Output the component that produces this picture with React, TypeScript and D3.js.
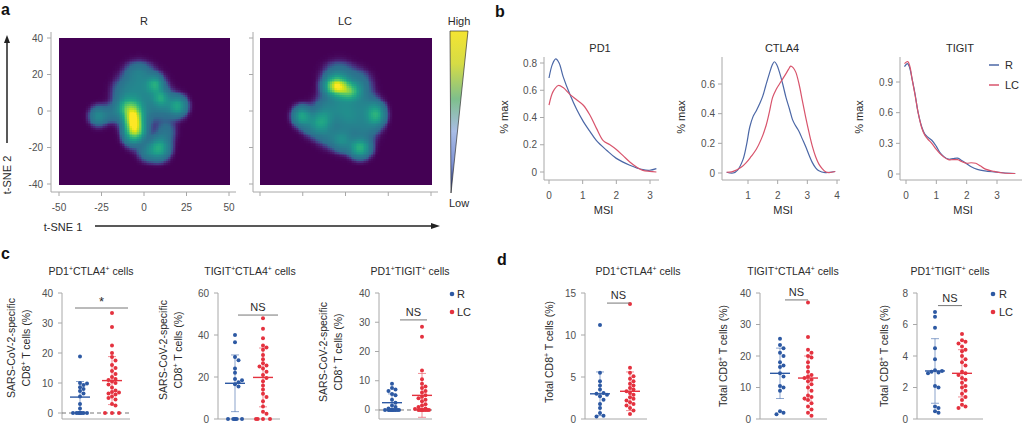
import React from "react";
import * as d3 from "d3";

type Pt = [number, number];
type Blob = [number, number, number, number, number];

const FONT = "'Liberation Sans', Arial, Helvetica, sans-serif";
const BLUE = "#2d59a3";
const RED = "#e4323f";
const LINE_BLUE = "#4b67a6";
const LINE_RED = "#d8546c";
const AXIS = "#a8a8a8";
const TEXT = "#505050";
const DARK = "#2a2a2a";

// ---------- Panel a data ----------
const tsneXTicks = [-50, -25, 0, 25, 50];
const tsneYTicks = [-40, -20, 0, 20, 40];
// density blobs: x, y, sx, sy, weight
const blobsR: Blob[] = [
  [-5, 15, 6, 6, 0.17],
  [4, 12, 6, 6, 0.2],
  [-12, 10, 5, 5, 0.15],
  [-3, 22, 5, 4, 0.15],
  [12, 3, 6, 5, 0.2],
  [20, 3, 3.5, 3.5, 0.45],
  [-4, 0, 6, 6, 0.25],
  [-27, -2.5, 3.5, 3.5, 0.3],
  [-19, -1, 4, 3.5, 0.15],
  [-11, 2, 3.5, 3.5, 0.4],
  [-6.3, -5, 3.6, 5.8, 1.2],
  [-3.5, -11, 3.5, 3.5, 0.4],
  [13, -11, 4, 4, 0.15],
  [9, -20, 4, 4, 0.55],
  [2, -22, 4, 3.5, 0.2],
  [-8, -14, 3.5, 3.5, 0.15],
  [6.5, 15, 3, 3, 0.4],
  [10, 7.5, 3, 3, 0.35],
];
const blobsLC: Blob[] = [
  [-5.2, 14, 4.3, 3.3, 1.1],
  [2.5, 11, 4, 3, 0.55],
  [-4, 20, 6, 5, 0.2],
  [8, 15, 5, 5, 0.18],
  [-2, 5, 7, 6, 0.22],
  [-12, 0, 5, 5, 0.18],
  [-25.5, -2.5, 3.5, 3.5, 0.5],
  [-14, -6, 4, 4, 0.4],
  [1.6, -4, 6, 6, 0.25],
  [18, -1.7, 3.5, 4, 0.55],
  [12, 3, 5, 5, 0.18],
  [12, -9, 5, 5, 0.18],
  [8.5, -20, 4, 3.5, 0.6],
  [-2, -16, 4, 4, 0.3],
  [-10, -14, 5, 4, 0.15],
  [-20, -8, 4, 4, 0.15],
];

// ---------- Panel b data ----------
const pd1R: Pt[] = [[0, 0.69], [0.1, 0.79], [0.2, 0.83], [0.3, 0.8], [0.42, 0.7], [0.62, 0.57], [0.82, 0.46], [1.02, 0.37], [1.21, 0.3], [1.41, 0.23], [1.71, 0.16], [2.0, 0.1], [2.4, 0.05], [2.79, 0.017], [2.99, 0.013], [3.19, 0.025]];
const pd1LC: Pt[] = [[0, 0.49], [0.12, 0.59], [0.28, 0.635], [0.42, 0.62], [0.62, 0.57], [0.82, 0.53], [1.02, 0.49], [1.21, 0.42], [1.41, 0.32], [1.61, 0.23], [1.81, 0.2], [2.0, 0.165], [2.2, 0.12], [2.4, 0.074], [2.6, 0.037], [2.79, 0.012], [2.99, 0.005], [3.19, 0.0]];
const ctla4R: Pt[] = [[0.28, 0.005], [0.5, 0.0], [0.65, 0.02], [0.83, 0.09], [0.95, 0.19], [1.06, 0.31], [1.17, 0.38], [1.28, 0.42], [1.4, 0.47], [1.5, 0.52], [1.6, 0.59], [1.72, 0.67], [1.82, 0.73], [1.89, 0.75], [1.97, 0.73], [2.06, 0.68], [2.17, 0.6], [2.28, 0.51], [2.4, 0.43], [2.5, 0.36], [2.6, 0.32], [2.72, 0.28], [2.83, 0.23], [2.94, 0.18], [3.06, 0.12], [3.17, 0.07], [3.28, 0.035], [3.39, 0.015], [3.6, 0.003], [3.94, 0.01]];
const ctla4LC: Pt[] = [[0.28, 0.005], [0.45, 0.008], [0.61, 0.02], [0.78, 0.04], [0.94, 0.07], [1.1, 0.11], [1.28, 0.16], [1.45, 0.23], [1.61, 0.32], [1.72, 0.41], [1.83, 0.51], [1.94, 0.56], [2.06, 0.6], [2.17, 0.635], [2.28, 0.67], [2.37, 0.7], [2.44, 0.72], [2.52, 0.71], [2.61, 0.68], [2.72, 0.6], [2.83, 0.49], [2.94, 0.38], [3.06, 0.27], [3.17, 0.18], [3.28, 0.11], [3.39, 0.06], [3.5, 0.03], [3.6, 0.01], [3.72, 0.003], [3.94, 0.01]];
const tigitR: Pt[] = [[-0.05, 1.05], [0.05, 1.08], [0.12, 1.04], [0.2, 0.93], [0.3, 0.78], [0.4, 0.6], [0.52, 0.46], [0.62, 0.39], [0.72, 0.36], [0.85, 0.33], [1.0, 0.27], [1.12, 0.21], [1.25, 0.17], [1.4, 0.145], [1.55, 0.15], [1.7, 0.155], [1.85, 0.13], [2.0, 0.1], [2.15, 0.07], [2.35, 0.045], [2.6, 0.03], [2.9, 0.02], [3.2, 0.012], [3.6, 0.005]];
const tigitLC: Pt[] = [[-0.05, 1.08], [0.06, 1.1], [0.13, 1.05], [0.2, 0.93], [0.3, 0.77], [0.4, 0.6], [0.52, 0.45], [0.62, 0.38], [0.72, 0.34], [0.85, 0.3], [1.0, 0.24], [1.12, 0.2], [1.25, 0.165], [1.4, 0.14], [1.55, 0.14], [1.7, 0.14], [1.85, 0.12], [2.0, 0.105], [2.15, 0.11], [2.3, 0.105], [2.45, 0.08], [2.6, 0.05], [2.9, 0.025], [3.2, 0.01], [3.6, 0.005]];

// ---------- Panel c / d data ----------
const c1R = [18.8, 10, 9.8, 9.3, 8.6, 8, 7.3, 6.5, 5.5, 3, 1.5, 0, 0, 0, 0, 0, 0, 0, 0];
const c1LC = [33.3, 28.7, 22.5, 20, 18.7, 17.5, 16, 15, 14, 13, 12, 11.3, 11, 10.5, 10, 9.5, 8.5, 7.5, 7, 6.8, 6.5, 6.2, 5.5, 5, 4.5, 3, 2.5, 0, 0, 0];
const c2R = [40, 36.5, 29.5, 28, 24, 22, 19, 18.5, 17.5, 16.5, 15.5, 0, 0, 0, 0, 0, 0];
const c2LC = [48, 43, 38.5, 35, 34, 33, 30.5, 28.5, 26.5, 25.5, 25, 24, 22.5, 21, 19.5, 18, 16, 14, 12, 10.5, 8.5, 6, 3.5, 2.5, 0, 0, 0, 0];
const c3R = [9, 7.5, 7, 6.5, 5.5, 5, 3.5, 2.5, 1.5, 1, 0.5, 0, 0, 0, 0, 0, 0, 0, 0, 0];
const c3LC = [28.5, 25, 13.5, 10.5, 9, 8, 7.5, 6.5, 6, 5, 4.5, 4, 3.5, 3, 2, 1.5, 1, 0.5, 0.3, 0, 0, 0, 0, 0, 0, 0, 0];
const d1R = [11.2, 5.5, 4.5, 4.0, 3.5, 3.1, 3.0, 2.9, 2.7, 2.3, 1.8, 1.3, 0.7, 0.4, 0.3];
const d1LC = [13.7, 6.1, 5.5, 5.1, 4.8, 4.5, 4.2, 4.0, 3.7, 3.5, 3.3, 3.1, 2.9, 2.6, 2.4, 2.2, 2.0, 1.8, 1.6, 1.3, 1.0, 0.6];
const d2R = [25.5, 23.5, 22.5, 21, 20, 18, 17, 16.5, 14.5, 13.5, 10.5, 10, 9, 2.5, 2, 1.5];
const d2LC = [37, 26, 22, 21, 20, 19.5, 18, 16.5, 15, 14, 13.5, 13, 12.5, 12, 11, 10, 9, 7.5, 7, 6.5, 6, 5, 4, 3, 2, 1];
const d3R = [6.8, 6.5, 5.8, 4.5, 3.8, 3.1, 3.05, 3.0, 2.95, 2.9, 2.1, 2.0, 0.8, 0.7, 0.5, 0.4];
const d3LC = [5.4, 5.0, 4.9, 4.8, 4.6, 4.4, 4.3, 4.0, 3.8, 3.6, 3.4, 3.0, 2.9, 2.8, 2.6, 2.5, 2.3, 2.1, 2.0, 1.8, 1.6, 1.4, 1.2, 0.9, 0.8, 0.7];
// mean and SD: [R, LC]
const means = { c1: [5.3, 10.8], c2: [17, 19.8], c3: [2.5, 5], d1: [3.0, 3.3], d2: [14.5, 13], d3: [3.05, 2.9] };
const sds = { c1: [5.2, 8], c2: [13.5, 14], c3: [3, 7.5], d1: [2.6, 2.3], d2: [8, 7], d3: [2.05, 1.5] };
const sigLabels = { c1: "*", c2: "NS", c3: "NS", d1: "NS", d2: "NS", d3: "NS" };
const groups = ["R", "LC"];

function sup(s: string, fs: number) {
  const parts = s.split("^+");
  const out: any[] = [];
  parts.forEach((p, i) => {
    out.push(<tspan key={"t" + i} dy={i > 0 ? fs * 0.38 : 0}>{p}</tspan>);
    if (i < parts.length - 1) out.push(<tspan key={"s" + i} fontSize={fs * 0.65} dy={-fs * 0.38}>+</tspan>);
  });
  return out;
}

function smoothstep(a: number, b: number, v: number) {
  const t = Math.max(0, Math.min(1, (v - a) / (b - a)));
  return t * t * (3 - 2 * t);
}

function Heatmap({ blobs, x, y }: any) {
  const cells = React.useMemo(() => {
    const out: { gx: number; gy: number; t: number }[] = [];
    for (let gx = -50; gx < 50; gx += 1) {
      for (let gy = -40; gy < 40; gy += 1) {
        const cx = gx + 0.5, cy = gy + 0.5;
        let v = 0;
        for (const [bx, by, sx, sy, w] of blobs) {
          v += w * Math.exp(-((cx - bx) ** 2 / (2 * sx * sx) + (cy - by) ** 2 / (2 * sy * sy)));
        }
        const t = Math.min(1, 0.29 * smoothstep(0.008, 0.14, v) + 0.55 * v);
        out.push({ gx, gy, t });
      }
    }
    return out;
  }, [blobs]);
  return (
    <g shapeRendering="crispEdges">
      {cells.map((c) => (
        <rect key={c.gx + "_" + c.gy} x={x(c.gx)} y={y(c.gy + 1)} width={x(c.gx + 1) - x(c.gx) + 0.6} height={y(c.gy) - y(c.gy + 1) + 0.6} fill={d3.interpolateViridis(c.t)} />
      ))}
    </g>
  );
}

function PanelA() {
  const yS = d3.scaleLinear().domain([-40, 40]).range([184, 38]);
  const xR = d3.scaleLinear().domain([-50, 50]).range([59, 229]);
  const xL = d3.scaleLinear().domain([-50, 50]).range([260, 431]);
  const axes = (x: any, ax: number, labels: boolean) => (
    <g>
      <line x1={ax} x2={ax} y1={32} y2={192} stroke={AXIS} />
      <line x1={ax} x2={x(50) + 7} y1={192} y2={192} stroke={AXIS} />
      {tsneYTicks.map((t) => (
        <g key={"y" + t}>
          <line x1={ax - 4} x2={ax} y1={yS(t)} y2={yS(t)} stroke={AXIS} />
          {labels && <text x={ax - 8} y={yS(t)} dy="0.35em" textAnchor="end" fontSize={10} fill={TEXT}>{t}</text>}
        </g>
      ))}
      {tsneXTicks.map((t) => (
        <g key={"x" + t}>
          <line x1={x(t)} x2={x(t)} y1={192} y2={196} stroke={AXIS} />
          {labels && <text x={x(t)} y={211} textAnchor="middle" fontSize={10} fill={TEXT}>{t}</text>}
        </g>
      ))}
    </g>
  );
  return (
    <g>
      <text x={1} y={15} fontSize={16} fontWeight="bold" fill="#111">a</text>
      <Heatmap blobs={blobsR} x={xR} y={yS} />
      <Heatmap blobs={blobsLC} x={xL} y={yS} />
      {axes(xR, 51, true)}
      {axes(xL, 253, false)}
      <text x={144} y={25} textAnchor="middle" fontSize={11} fill={DARK}>R</text>
      <text x={345} y={25} textAnchor="middle" fontSize={11} fill={DARK}>LC</text>
      <defs>
        <linearGradient id="legGrad" x1="0" y1="0" x2="0" y2="1">
          <stop offset="0" stopColor="#f4e432" />
          <stop offset="0.2" stopColor="#d6dc45" />
          <stop offset="0.42" stopColor="#7ebf8c" />
          <stop offset="0.62" stopColor="#a9bde6" />
          <stop offset="0.82" stopColor="#7f93d6" />
          <stop offset="1" stopColor="#1c2c78" />
        </linearGradient>
      </defs>
      <polygon points="450,31 468,31 451,193" fill="url(#legGrad)" stroke="#333" strokeWidth={0.7} />
      <text x={459} y={25} textAnchor="middle" fontSize={11} fill={DARK}>High</text>
      <text x={459} y={207} textAnchor="middle" fontSize={11} fill={DARK}>Low</text>
      <line x1={7} x2={7} y1={143} y2={42} stroke="#222" strokeWidth={1.5} />
      <polygon points="4,43 10,43 7,35" fill="#222" />
      <text transform="translate(11,175) rotate(-90)" textAnchor="middle" fontSize={11} fill={DARK}>t-SNE 2</text>
      <text x={63} y={231} textAnchor="middle" fontSize={11} fill={DARK}>t-SNE 1</text>
      <line x1={95} x2={432} y1={226} y2={226} stroke="#222" strokeWidth={1.5} />
      <polygon points="431,223 431,229 440,226" fill="#222" />
    </g>
  );
}

const densityPanels = [
  { title: "PD1", ax: 544, xDom: [0, 3], xRange: [549, 650], xTicks: [0, 1, 2, 3], xEnd: 659, yDom: [0, 0.8], yRange: [172, 63], yTicks: [0, 0.2, 0.4, 0.6, 0.8], r: pd1R, lc: pd1LC, labX: 508, titleX: 600 },
  { title: "CTLA4", ax: 722, xDom: [1, 4], xRange: [748, 837], xTicks: [1, 2, 3, 4], xEnd: 840, yDom: [0, 0.6], yRange: [173, 84], yTicks: [0, 0.2, 0.4, 0.6], r: ctla4R, lc: ctla4LC, labX: 685, titleX: 782 },
  { title: "TIGIT", ax: 900, xDom: [0, 3], xRange: [906, 997], xTicks: [0, 1, 2, 3], xEnd: 1022, yDom: [0, 0.9], yRange: [174, 82], yTicks: [0, 0.3, 0.6, 0.9], r: tigitR, lc: tigitLC, labX: 863, titleX: 960 },
];

function PanelB() {
  return (
    <g>
      <text x={495} y={17} fontSize={16} fontWeight="bold" fill="#111">b</text>
      {densityPanels.map((p) => {
        const x = d3.scaleLinear().domain(p.xDom).range(p.xRange);
        const y = d3.scaleLinear().domain(p.yDom).range(p.yRange);
        const line = d3.line<Pt>().x((d) => x(d[0])).y((d) => y(d[1])).curve(d3.curveCatmullRom.alpha(0.5));
        return (
          <g key={p.title}>
            <line x1={p.ax} x2={p.ax} y1={57} y2={180} stroke={AXIS} />
            <line x1={p.ax} x2={p.xEnd} y1={180} y2={180} stroke={AXIS} />
            {p.yTicks.map((t) => (
              <g key={"y" + t}>
                <line x1={p.ax - 4} x2={p.ax} y1={y(t)} y2={y(t)} stroke={AXIS} />
                <text x={p.ax - 7} y={y(t)} dy="0.35em" textAnchor="end" fontSize={10} fill={TEXT}>{String(t)}</text>
              </g>
            ))}
            {p.xTicks.map((t) => (
              <g key={"x" + t}>
                <line x1={x(t)} x2={x(t)} y1={180} y2={184} stroke={AXIS} />
                <text x={x(t)} y={199} textAnchor="middle" fontSize={10} fill={TEXT}>{t}</text>
              </g>
            ))}
            <path d={line(p.r) || ""} fill="none" stroke={LINE_BLUE} strokeWidth={1.2} />
            <path d={line(p.lc) || ""} fill="none" stroke={LINE_RED} strokeWidth={1.2} />
            <text x={p.titleX} y={52} textAnchor="middle" fontSize={11} fill={DARK}>{p.title}</text>
            <text x={(p.ax + p.xEnd) / 2 + 2} y={214} textAnchor="middle" fontSize={11} fill={DARK}>MSI</text>
            <text transform={`translate(${p.labX},117) rotate(-90)`} textAnchor="middle" fontSize={11} fill={DARK}>% max</text>
          </g>
        );
      })}
      <line x1={989} x2={999} y1={65} y2={65} stroke={LINE_BLUE} strokeWidth={1.5} />
      <text x={1005} y={69} fontSize={11} fill={DARK}>{groups[0]}</text>
      <line x1={989} x2={999} y1={85} y2={85} stroke={LINE_RED} strokeWidth={1.5} />
      <text x={1005} y={89} fontSize={11} fill={DARK}>{groups[1]}</text>
    </g>
  );
}

function swarm(values: number[], y: (v: number) => number, cx: number) {
  const step = 3.5, minD = 3.7;
  const offs = [0, 1, -1, 2, -2, 3, -3];
  const placed: { x: number; y: number }[] = [];
  const sorted = [...values].sort((a, b) => b - a);
  return sorted.map((v, i) => {
    const py = y(v);
    let chosen: number | null = null;
    for (const o of offs) {
      const px = cx + o * step;
      if (placed.every((p) => Math.hypot(p.x - px, p.y - py) >= minD)) { chosen = px; break; }
    }
    if (chosen === null) chosen = cx + offs[i % offs.length] * step * 0.5;
    placed.push({ x: chosen, y: py });
    return { v, x: chosen, y: py };
  });
}

const scatterPanels = [
  { key: "c1", title: "PD1^+CTLA4^+ cells", titleX: 91, ax: 62, xEnd: 130, yDom: [-2, 40], yTicks: [0, 10, 20, 30, 40], xR: 80, xLC: 112, r: c1R, lc: c1LC, dashed: true, sigY: 35, sig: [75, 128], ylab: ["SARS-CoV-2-specific", "CD8^+ T cells (%)"], ylabX: [15, 30], ylabY: 348 },
  { key: "c2", title: "TIGIT^+CTLA4^+ cells", titleX: 250, ax: 218, xEnd: 280, yDom: [0, 60], yTicks: [0, 20, 40, 60], xR: 235, xLC: 263, r: c2R, lc: c2LC, dashed: false, sigY: 49.5, sig: [238, 278], ylab: ["SARS-CoV-2-specific", "CD8^+ T cells (%)"], ylabX: [167, 182], ylabY: 350 },
  { key: "c3", title: "PD1^+TIGIT^+ cells", titleX: 410, ax: 379, xEnd: 432, yDom: [-3.08, 40], yTicks: [0, 10, 20, 30, 40], xR: 392, xLC: 422, r: c3R, lc: c3LC, dashed: true, sigY: 30.8, sig: [400, 427], ylab: ["SARS-CoV-2-specific", "CD8^+ T cells (%)"], ylabX: [327, 342], ylabY: 352 },
  { key: "d1", title: "PD1^+CTLA4^+ cells", titleX: 638, ax: 585, xEnd: 647, yDom: [0, 15], yTicks: [0, 5, 10, 15], xR: 600, xLC: 630, r: d1R, lc: d1LC, dashed: false, sigY: 13.8, sig: [607, 630], ylab: ["Total CD8^+ T cells (%)"], ylabX: [553], ylabY: 352 },
  { key: "d2", title: "TIGIT^+CTLA4^+ cells", titleX: 793, ax: 760, xEnd: 827, yDom: [0, 40], yTicks: [0, 10, 20, 30, 40], xR: 780, xLC: 808, r: d2R, lc: d2LC, dashed: false, sigY: 37.8, sig: [785, 808], ylab: ["Total CD8^+ T cells (%)"], ylabX: [727], ylabY: 356 },
  { key: "d3", title: "PD1^+TIGIT^+ cells", titleX: 950, ax: 917, xEnd: 983, yDom: [0, 8], yTicks: [0, 2, 4, 6, 8], xR: 935, xLC: 962, r: d3R, lc: d3LC, dashed: false, sigY: 7.2, sig: [938, 962], ylab: ["Total CD8^+ T cells (%)"], ylabX: [888], ylabY: 356 },
];

function PanelCD() {
  return (
    <g>
      <text x={1} y={259} fontSize={16} fontWeight="bold" fill="#111">c</text>
      <text x={497} y={265} fontSize={16} fontWeight="bold" fill="#111">d</text>
      {scatterPanels.map((p) => {
        const y = d3.scaleLinear().domain(p.yDom).range([419, 293]);
        const m = (means as any)[p.key];
        const s = (sds as any)[p.key];
        const sets = [
          { vals: p.r, cx: p.xR, col: BLUE, mean: m[0], sd: s[0] },
          { vals: p.lc, cx: p.xLC, col: RED, mean: m[1], sd: s[1] },
        ];
        return (
          <g key={p.key}>
            <line x1={p.ax} x2={p.ax} y1={293} y2={419} stroke={AXIS} />
            <line x1={p.ax} x2={p.xEnd} y1={419} y2={419} stroke={AXIS} />
            {p.yTicks.map((t) => (
              <g key={t}>
                <line x1={p.ax - 4} x2={p.ax} y1={y(t)} y2={y(t)} stroke={AXIS} />
                <text x={p.ax - 9} y={y(t)} dy="0.35em" textAnchor="end" fontSize={10} fill={TEXT}>{t}</text>
              </g>
            ))}
            {p.dashed && <line x1={p.ax} x2={p.xEnd} y1={y(0)} y2={y(0)} stroke="#777" strokeDasharray="4,3" />}
            {sets.map((g, gi) => (
              <g key={gi}>
                <line x1={g.cx} x2={g.cx} y1={y(g.mean - g.sd)} y2={y(g.mean + g.sd)} stroke={g.col} strokeOpacity={0.55} />
                <line x1={g.cx - 4} x2={g.cx + 4} y1={y(g.mean + g.sd)} y2={y(g.mean + g.sd)} stroke={g.col} strokeOpacity={0.55} />
                <line x1={g.cx - 4} x2={g.cx + 4} y1={y(g.mean - g.sd)} y2={y(g.mean - g.sd)} stroke={g.col} strokeOpacity={0.55} />
              </g>
            ))}
            {sets.map((g, gi) =>
              swarm(g.vals, y, g.cx).map((d, i) => <circle key={gi + "_" + i} cx={d.x} cy={d.y} r={2} fill={g.col} />)
            )}
            {sets.map((g, gi) => (
              <line key={"m" + gi} x1={g.cx - 10} x2={g.cx + 10} y1={y(g.mean)} y2={y(g.mean)} stroke={g.col} strokeWidth={1.4} />
            ))}
            <line x1={p.sig[0]} x2={p.sig[1]} y1={y(p.sigY)} y2={y(p.sigY)} stroke="#777" strokeWidth={1} />
            <text x={(p.sig[0] + p.sig[1]) / 2} y={y(p.sigY) - (p.key === "c1" ? 2 : 4)} textAnchor="middle" fontSize={p.key === "c1" ? 13 : 11} fill={DARK}>{(sigLabels as any)[p.key]}</text>
            <text x={p.titleX} y={275} textAnchor="middle" fontSize={10.5} fill={DARK}>{sup(p.title, 10.5)}</text>
            {p.ylab.map((l, i) => (
              <text key={i} transform={`translate(${p.ylabX[i]},${p.ylabY}) rotate(-90)`} textAnchor="middle" fontSize={10.5} fill={DARK}>{sup(l, 10.5)}</text>
            ))}
          </g>
        );
      })}
      {[[452, 457], [993, 999]].map(([dx, tx], k) => (
        <g key={k}>
          <circle cx={dx} cy={294} r={2.3} fill={BLUE} />
          <text x={tx} y={298} fontSize={11} fill={DARK}>{groups[0]}</text>
          <circle cx={dx} cy={312} r={2.3} fill={RED} />
          <text x={tx} y={316} fontSize={11} fill={DARK}>{groups[1]}</text>
        </g>
      ))}
    </g>
  );
}

export default function App() {
  return (
    <div style={{ position: "absolute", left: 0, top: 0 }}>
      <svg width={1024} height={426} fontFamily={FONT} style={{ display: "block", background: "#fff" }}>
        <PanelA />
        <PanelB />
        <PanelCD />
      </svg>
    </div>
  );
}
